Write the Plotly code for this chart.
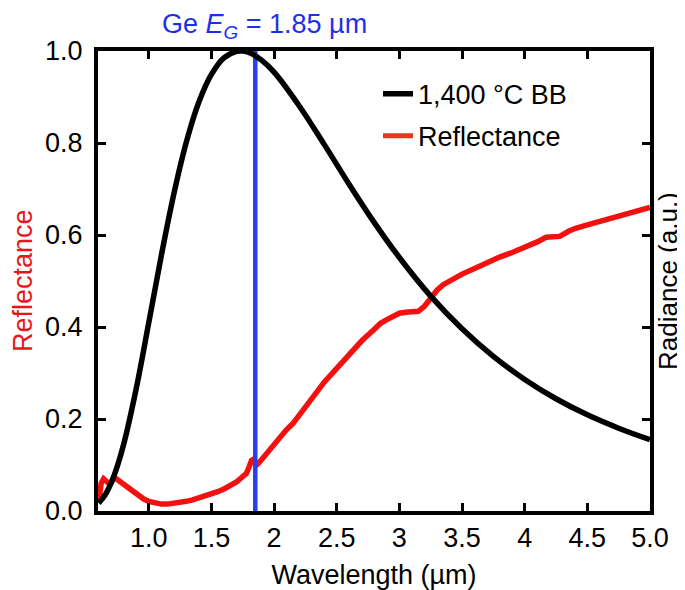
import plotly.graph_objects as go

# Blackbody (1,400 °C) normalized radiance
bb_wavelength = [0.6, 0.65, 0.7, 0.75, 0.8, 0.9, 1.0, 1.1, 1.2, 1.3, 1.4, 1.5, 1.6, 1.7,
                 1.75, 1.8, 1.9, 2.0, 2.2, 2.4, 2.6, 2.8, 3.0, 3.25, 3.5, 3.75, 4.0,
                 4.25, 4.5, 4.75, 5.0]
bb_radiance = [0.017, 0.034, 0.061, 0.098, 0.145, 0.266, 0.409, 0.555, 0.689, 0.802,
               0.889, 0.949, 0.985, 0.999, 1.0, 0.997, 0.980, 0.954, 0.881, 0.797,
               0.710, 0.627, 0.551, 0.467, 0.396, 0.336, 0.286, 0.244, 0.209, 0.180,
               0.155]

refl_wavelength = [0.6, 0.61, 0.62, 0.64, 0.66, 0.68, 0.70, 0.72, 0.74, 0.76, 0.78, 0.80,
                   0.84, 0.88, 0.92, 0.96, 1.0, 1.05, 1.10, 1.15, 1.20, 1.25, 1.30, 1.35,
                   1.40, 1.45, 1.50, 1.55, 1.60, 1.65, 1.70, 1.75, 1.78, 1.80, 1.82, 1.84,
                   1.86, 1.88, 1.92, 1.96, 2.0, 2.05, 2.1, 2.15, 2.2, 2.25, 2.3, 2.35, 2.4,
                   2.5, 2.6, 2.7, 2.8, 2.85, 2.9, 2.95, 3.0, 3.05, 3.1, 3.15, 3.2, 3.25,
                   3.3, 3.35, 3.4, 3.5, 3.6, 3.7, 3.8, 3.9, 4.0, 4.1, 4.17, 4.22, 4.28,
                   4.35, 4.4, 4.5, 4.6, 4.7, 4.8, 4.9, 5.0]
refl_value = [0.02, 0.04, 0.06, 0.07, 0.065, 0.06, 0.062, 0.072, 0.07, 0.066, 0.06, 0.055,
              0.047, 0.039, 0.032, 0.026, 0.021, 0.017, 0.015, 0.015, 0.016, 0.018, 0.021,
              0.024, 0.028, 0.032, 0.037, 0.042, 0.048, 0.055, 0.063, 0.075, 0.082, 0.095,
              0.11, 0.113, 0.10, 0.105, 0.118, 0.132, 0.148, 0.163, 0.177, 0.19, 0.208,
              0.225, 0.245, 0.262, 0.28, 0.31, 0.34, 0.37, 0.395, 0.408, 0.416, 0.424,
              0.43, 0.432, 0.432, 0.434, 0.445, 0.465, 0.48, 0.492, 0.50, 0.515, 0.527,
              0.54, 0.552, 0.562, 0.573, 0.585, 0.595, 0.595, 0.597, 0.608, 0.614, 0.622,
              0.63, 0.637, 0.645, 0.652, 0.66]

# Ge band gap wavelength marker
eg_wavelength = 1.85
eg_span = [0.0, 1.0]

x_tickvals = [1.0, 1.5, 2.0, 2.5, 3.0, 3.5, 4.0, 4.5, 5.0]
x_ticktext = ["1.0", "1.5", "2", "2.5", "3", "3.5", "4", "4.5", "5.0"]
y_tickvals = [0.0, 0.2, 0.4, 0.6, 0.8, 1.0]
y_ticktext = ["0.0", "0.2", "0.4", "0.6", "0.8", "1.0"]

FONT = "Liberation Sans, Arial, Helvetica, sans-serif"
RED = "#f51010"
BLUE = "#2a3ff0"
FS = 27

fig = go.Figure()

fig.add_trace(go.Scatter(
    x=refl_wavelength, y=refl_value, mode="lines",
    line=dict(color=RED, width=5.5), showlegend=False, name="Reflectance"))

fig.add_trace(go.Scatter(
    x=[eg_wavelength, eg_wavelength], y=eg_span, mode="lines",
    line=dict(color=BLUE, width=4.5), showlegend=False, name="Ge EG"))

fig.add_trace(go.Scatter(
    x=bb_wavelength, y=bb_radiance, mode="lines", line_shape="spline",
    line=dict(color="black", width=5.5), name="1,400 °C BB",
    legendgroup="a", yaxis="y2"))

# legend-only entry (legend swatch in orange-red as in the original)
fig.add_trace(go.Scatter(
    x=[None], y=[None], mode="lines",
    line=dict(color="#e23a1c", width=5), name="Reflectance", legendgroup="b"))

fig.update_layout(
    width=685, height=590,
    margin=dict(l=90, r=43, t=43, b=80),
    paper_bgcolor="white", plot_bgcolor="white",
    font=dict(family=FONT, size=FS, color="black"),
    showlegend=True,
    legend=dict(x=(370 - 90) / 552, y=(510 - 62) / 467, xanchor="left", yanchor="top",
                bgcolor="rgba(0,0,0,0)", font=dict(size=FS),
                traceorder="grouped", tracegroupgap=4),
    xaxis=dict(range=[0.595, 5.0], tickvals=x_tickvals, ticktext=x_ticktext,
               ticks="inside", ticklen=8, tickwidth=2.5, tickcolor="black",
               showline=True, linewidth=4, linecolor="black", mirror="ticks",
               showgrid=False, zeroline=False,
               title=dict(text="Wavelength (µm)", standoff=14,
                          font=dict(size=FS))),
    yaxis=dict(range=[0, 1.0], tickvals=y_tickvals, ticktext=y_ticktext,
               ticks="inside", ticklen=8, tickwidth=2.5, tickcolor="black",
               showline=True, linewidth=4, linecolor="black", mirror="ticks",
               showgrid=False, zeroline=False, ticklabelstandoff=6),
    yaxis2=dict(range=[0, 1.0], overlaying="y", side="right",
                showticklabels=False, ticks="", showline=False,
                showgrid=False, zeroline=False),
)

fig.add_annotation(
    text="Ge <i>E</i><sub><i>G</i></sub> = 1.85 µm", xref="paper", yref="paper",
    x=(256 - 90) / 552, y=1.0, xanchor="center", yanchor="bottom", yshift=6,
    showarrow=False, font=dict(family=FONT, size=FS, color="#1f2fe8"))

fig.add_annotation(
    text="Reflectance", xref="paper", yref="paper",
    x=(15 - 90) / 552, y=0.5, xanchor="center", yanchor="middle", textangle=-90,
    showarrow=False, font=dict(family=FONT, size=FS, color="#e8161a"))

fig.add_annotation(
    text="Radiance (a.u.)", xref="paper", yref="paper",
    x=(660 - 90) / 552, y=0.5, xanchor="center", yanchor="middle", textangle=-90,
    showarrow=False, font=dict(family=FONT, size=26, color="black"))

fig.write_html("out.html")
